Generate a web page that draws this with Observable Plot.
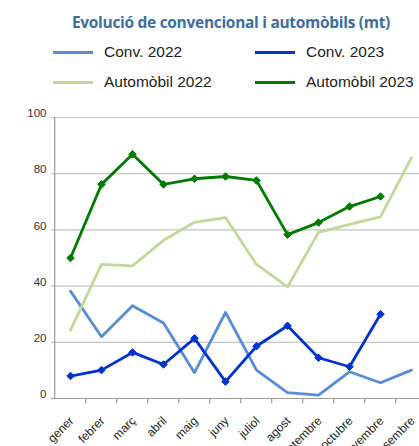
<!DOCTYPE html>
<html><head><meta charset="utf-8">
<script src="https://cdn.jsdelivr.net/npm/d3@7"></script>
<script src="https://cdn.jsdelivr.net/npm/@observablehq/plot@0.6"></script>
<style>
body{margin:0;background:#fff;font-family:"Liberation Sans",Arial,sans-serif;}
#head{position:relative;width:419px;height:100px;}
#title{position:absolute;left:0;width:462px;top:11px;text-align:center;font:bold 15.5px "Open Sans",sans-serif;color:#3e6e9c;letter-spacing:-0.3px;}
.leg{position:absolute;font-size:15.5px;color:#222;display:flex;align-items:center;}
.leg span.sw{display:inline-block;width:40px;height:3px;margin-right:11px;}
</style></head>
<body>
<div id="head"><div id="title">Evolució de convencional i automòbils (mt)</div></div>
<div id="chart"></div>
<script>
const months = ["gener","febrer","març","abril","maig","juny","juliol","agost","setembre","octubre","novembre","desembre"];
const conv2022 = [38.2,22.0,33.0,26.9,9.2,30.6,10.1,2.1,1.2,9.5,5.6,10.1];
const conv2023 = [8.0,10.1,16.4,12.1,21.4,6.0,18.6,25.9,14.5,11.3,30.0,null];
const auto2022 = [24.3,47.7,47.2,56.3,62.7,64.4,47.7,39.7,59.1,62.0,64.6,85.7];
const auto2023 = [50.0,76.2,86.9,76.2,78.2,79.0,77.6,58.3,62.6,68.3,71.9,null];
const yTicks = [0,20,40,60,80,100];
const seriesNames = ["Conv. 2022","Conv. 2023","Automòbil 2022","Automòbil 2023"];
const colors = ["#558ed5","#0033cc","#c4d79b","#007a00"];
const seriesVals = [conv2022,conv2023,auto2022,auto2023];
const markers = [false,true,false,true];

const head = document.getElementById("head");
const legPos = [[53,52],[255,52],[53,82],[255,82]];
seriesNames.forEach((n,i)=>{
  const d=document.createElement("div");d.className="leg";
  d.style.left=legPos[i][0]+"px";d.style.top=(legPos[i][1]-10)+"px";d.style.height="20px";
  d.innerHTML=`<span class="sw" style="background:${colors[i]}"></span>${n}`;
  head.appendChild(d);
});

const data = [];
seriesVals.forEach((arr,s)=>arr.forEach((v,i)=>{ if(v!=null) data.push({series:seriesNames[s],month:months[i],value:v}); }));

const step = (430-51)/12;
const marks = [
  Plot.ruleY(yTicks.slice(1),{y:d=>d,stroke:"#c4c4c4",strokeWidth:1.2}),
  Plot.ruleX([0],{x:()=>months[0],dx:-step/2,y1:0,y2:100,stroke:"#9a9a9a",strokeWidth:1.2}),
  Plot.ruleY([0],{stroke:"#9a9a9a",strokeWidth:1.2}),
  Plot.ruleX(months.slice(1),{x:d=>d,dx:-step/2,y1:0,y2:-1.9,stroke:"#9a9a9a",strokeWidth:1.2}),
  Plot.axisY({ticks:yTicks,tickSize:0,tickPadding:5,dy:-4,fontSize:11.5,fill:"#333",label:null}),
  Plot.axisX({tickSize:0,tickRotate:-45,fontSize:12,fill:"#222",label:null,dx:1.2,dy:8.5}),
];
seriesNames.forEach((n,s)=>{
  const sd=data.filter(d=>d.series===n);
  marks.push(Plot.line(sd,{x:"month",y:"value",stroke:colors[s],strokeWidth:2.8}));
  if(markers[s]) marks.push(Plot.dot(sd,{x:"month",y:"value",fill:colors[s],stroke:colors[s],strokeWidth:1,symbol:"diamond2",r:3.4}));
});

const chart = Plot.plot({
  width:419,height:346,marginTop:17,marginBottom:48,marginLeft:51,marginRight:0,
  style:{fontFamily:"Liberation Sans, Arial, sans-serif",background:"#fff",overflow:"hidden"},
  x:{type:"point",domain:months,range:[51,430],padding:0.5},
  y:{domain:[0,100],range:[298,17]},
  marks
});
document.getElementById("chart").appendChild(chart);
</script>
</body></html>
